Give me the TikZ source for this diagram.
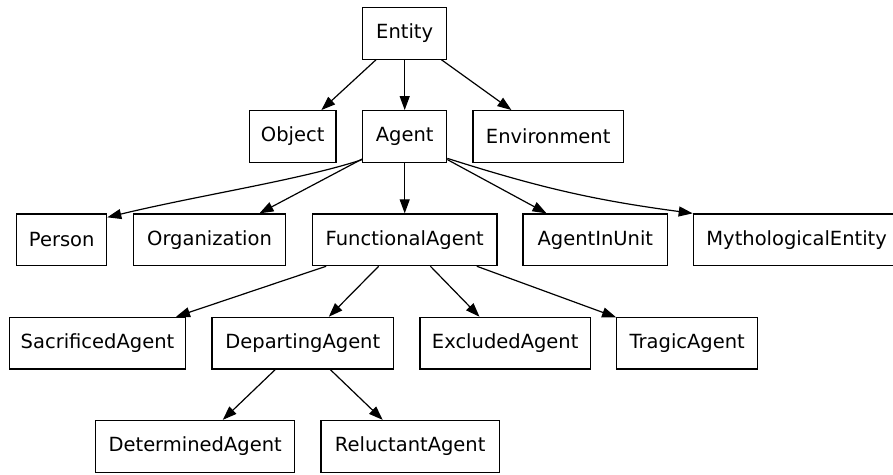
\documentclass[tikz,border=0pt]{standalone}
\usepackage{fontspec}
\setmainfont{DejaVu Sans}
\usetikzlibrary{arrows.meta}
\begin{document}
\begin{tikzpicture}[x=1pt,y=1pt,
  cls/.style={draw=black, line width=1.2pt, minimum height=51.7pt, inner sep=0pt,
    font=\fontsize{19.5}{22}\selectfont},
  arr/.style={line width=1.2pt, -{Triangle[length=14pt,width=10pt]}}]
\useasboundingbox (0,0) rectangle (893,474);
% row 1
\node[cls, minimum width=84pt] (entity) at (404.7,440.7) {Entity};
% row 2
\node[cls, minimum width=86.7pt] (object) at (292.7,337.5) {Object};
\node[cls, minimum width=84pt] (agent) at (404.7,337.5) {Agent};
\node[cls, minimum width=150.3pt] (environment) at (548.2,337.5) {Environment};
% row 3
\node[cls, minimum width=90pt] (person) at (61.7,234.2) {Person};
\node[cls, minimum width=152.4pt] (organization) at (209.5,234.2) {Organization};
\node[cls, minimum width=184.7pt] (functional) at (404.7,234.2) {FunctionalAgent};
\node[cls, minimum width=144.7pt] (agentinunit) at (595.3,234.2) {AgentInUnit};
\node[cls, minimum width=206.6pt] (myth) at (796.6,234.2) {MythologicalEntity};
% row 4
\node[cls, minimum width=176.4pt] (sacrificed) at (97.5,130.8) {SacrificedAgent};
\node[cls, minimum width=181.7pt] (departing) at (302.8,130.8) {DepartingAgent};
\node[cls, minimum width=170.3pt] (excluded) at (505.2,130.8) {ExcludedAgent};
\node[cls, minimum width=141pt] (tragic) at (687.2,130.8) {TragicAgent};
% row 5
\node[cls, minimum width=199pt] (determined) at (195.2,27.7) {DeterminedAgent};
\node[cls, minimum width=178.3pt] (reluctant) at (410.2,27.7) {ReluctantAgent};
% edges
\draw[arr] (entity) -- (object);
\draw[arr] (entity) -- (agent);
\draw[arr] (entity) -- (environment);
\draw[arr] ([yshift=3.3pt]agent.south west) .. controls (300,294) and (200,279) .. ([yshift=-4pt]person.north east);
\draw[arr] (agent) -- (organization);
\draw[arr] (agent) -- (functional);
\draw[arr] (agent) -- (agentinunit);
\draw[arr] ([yshift=4.6pt]agent.south east) to[bend right=5] (myth.north west);
\draw[arr] (functional) -- (sacrificed);
\draw[arr] (functional) -- (departing);
\draw[arr] (functional) -- (excluded);
\draw[arr] (functional) -- (tragic);
\draw[arr] (departing) -- (determined);
\draw[arr] (departing) -- (reluctant);
\end{tikzpicture}
\end{document}
